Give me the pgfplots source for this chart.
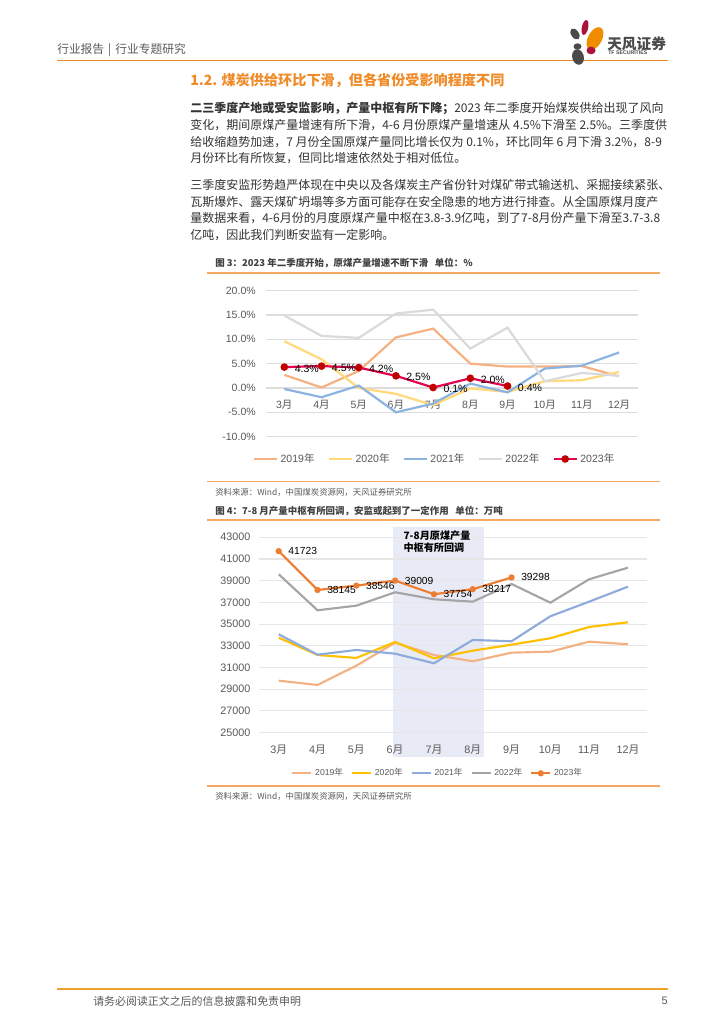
\documentclass[border=0pt]{standalone}
\usepackage{pgfplots}
\pgfplotsset{compat=1.18}
\usepackage{fontspec}
\setmainfont{Liberation Sans}
\newfontfamily\cjk{Noto Sans CJK SC}
\definecolor{hdr}{HTML}{EE8424}
\definecolor{ttl}{HTML}{F08B28}
\definecolor{rulec}{HTML}{F5A860}
\definecolor{foot}{HTML}{F0A02C}
\definecolor{bodyc}{HTML}{333333}
\definecolor{gr}{HTML}{595959}
\definecolor{ttlg}{HTML}{404040}
\definecolor{gridA}{HTML}{DDDDDD}
\definecolor{gridB}{HTML}{E6E6E6}
\definecolor{aA}{HTML}{F6B183}
\definecolor{aB}{HTML}{FFD97A}
\definecolor{aC}{HTML}{8DB4E0}
\definecolor{aD}{HTML}{DADADA}
\definecolor{aE}{HTML}{E3064E}
\definecolor{aEm}{HTML}{C00000}
\definecolor{bA}{HTML}{F4B183}
\definecolor{bB}{HTML}{FFC000}
\definecolor{bC}{HTML}{8FAADC}
\definecolor{bD}{HTML}{A5A5A5}
\definecolor{bE}{HTML}{ED7D31}
\definecolor{bandc}{HTML}{E8EBF6}
\definecolor{logog}{HTML}{4A4A4A}
\definecolor{logoo}{HTML}{F08C00}
\definecolor{logor}{HTML}{A8143C}
\newcommand{\nline}[2]{\node[anchor=west,inner sep=0pt,text=bodyc] at (190,#1) {\cjk\fontsize{9.0}{10}\selectfont #2};}
\begin{document}
\begin{tikzpicture}
\begin{scope}[x=0.75pt,y=-0.75pt]
\useasboundingbox (0,0) rectangle (724,1024);
\fill[white] (0,0) rectangle (724,1024);
% header
\node[anchor=west,inner sep=0pt,text=gr] at (57,50) {\cjk\fontsize{8.8}{10}\selectfont 行业报告\hspace{3pt}|\hspace{3pt}行业专题研究};
\draw[hdr,line width=1.2pt] (57,60.5) -- (668,60.5);
% logo
\fill[logor,rotate around={-12:(585,27.5)}] (585,27.5) ellipse (3.2 and 7.5);
\fill[logog,rotate around={35:(575,34)}] (575,34) ellipse (3.8 and 6.2);
\fill[logoo,rotate around={-28:(595,38.5)}] (595,38.5) ellipse (7 and 12.3);
\fill[logog] (577.5,46.5) ellipse (4 and 3.2);
\fill[logor] (591,50.5) ellipse (4.5 and 3.8);
\fill[logog,rotate around={15:(578,57)}] (578,57) ellipse (5.8 and 7.8);
\node[anchor=west,inner sep=0pt,text=logog] at (607,43.5) {\cjk\bfseries\fontsize{11}{12}\selectfont 天风证券};
\node[anchor=west,inner sep=0pt,text=logog] at (608,53) {\bfseries\fontsize{3.9}{4}\selectfont TF SECURITIES};
% section title
\node[anchor=west,inner sep=0pt,text=ttl] at (190,80) {\cjk\bfseries\fontsize{10.6}{12}\selectfont 1.2. 煤炭供给环比下滑，但各省份受影响程度不同};
% paragraph 1
\nline{108}{{\bfseries 二三季度产地或受安监影响，产量中枢有所下降；}2023 年二季度开始煤炭供给出现了风向}
\nline{125}{变化，期间原煤产量增速有所下滑，4-6 月份原煤产量增速从 4.5\%下滑至 2.5\%。三季度供}
\nline{142}{给收缩趋势加速，7 月份全国原煤产量同比增长仅为 0.1\%，环比同年 6 月下滑 3.2\%，8-9}
\nline{158}{月份环比有所恢复，但同比增速依然处于相对低位。}
% paragraph 2
\nline{185}{三季度安监形势趋严体现在中央以及各煤炭主产省份针对煤矿带式输送机、采掘接续紧张、}
\nline{202}{瓦斯爆炸、露天煤矿坍塌等多方面可能存在安全隐患的地方进行排查。从全国原煤月度产}
\nline{218}{量数据来看，4-6月份的月度原煤产量中枢在3.8-3.9亿吨，到了7-8月份产量下滑至3.7-3.8}
\nline{235}{亿吨，因此我们判断安监有一定影响。}
% chart 1 frame
\node[anchor=west,inner sep=0pt,text=ttlg] at (215,263) {\cjk\bfseries\fontsize{7.1}{8}\selectfont 图 3：2023 年二季度开始，原煤产量增速不断下滑\hspace{5pt}单位：\%};
\draw[rulec,line width=0.9pt] (207,273) -- (660,273);
\draw[rulec,line width=0.9pt] (207,481.5) -- (660,481.5);
\node[anchor=west,inner sep=0pt,text=gr] at (215,492) {\cjk\fontsize{6.3}{8}\selectfont 资料来源：Wind，中国煤炭资源网，天风证券研究所};
% chart 2 frame
\node[anchor=west,inner sep=0pt,text=ttlg] at (215,511.5) {\cjk\bfseries\fontsize{7.1}{8}\selectfont 图 4：7-8 月产量中枢有所回调，安监或起到了一定作用\hspace{5pt}单位：万吨};
\draw[rulec,line width=0.9pt] (207,520) -- (660,520);
\draw[rulec,line width=0.9pt] (207,786) -- (660,786);
\node[anchor=west,inner sep=0pt,text=gr] at (215,796) {\cjk\fontsize{6.3}{8}\selectfont 资料来源：Wind，中国煤炭资源网，天风证券研究所};
% shaded band behind chart 2
\fill[bandc] (393.3,526.7) rectangle (484.3,756.7);
% footer
\draw[foot,line width=1.5pt] (57,989) -- (668,989);
\node[anchor=west,inner sep=0pt,text=gr] at (93,1001) {\cjk\fontsize{8.2}{10}\selectfont 请务必阅读正文之后的信息披露和免责申明};
\node[anchor=east,inner sep=0pt,text=gr] at (668,1001) {\fontsize{8.2}{10}\selectfont 5};
\end{scope}

% ---------------- chart 1 ----------------
\begin{axis}[
  at={(199.3pt,-327.5pt)}, anchor=south west,
  scale only axis, width=279pt, height=109.5pt,
  xmin=-0.5, xmax=9.5, ymin=-10, ymax=20,
  xtick={0,...,9},
  xticklabels={3{\cjk 月},4{\cjk 月},5{\cjk 月},6{\cjk 月},7{\cjk 月},8{\cjk 月},9{\cjk 月},10{\cjk 月},11{\cjk 月},12{\cjk 月}},
  ytick={-10,-5,0,5,10,15,20},
  yticklabel={\pgfmathprintnumber[fixed,fixed zerofill,precision=1]{\tick}\%},
  /pgf/number format/assume math mode=true,
  axis line style={draw=none}, major tick length=0pt,
  ymajorgrids, grid style={gridA, line width=0.8pt},
  tick label style={font=\fontsize{7.9}{9}\selectfont, text=gr},
  yticklabel style={anchor=east, inner sep=0pt, xshift=-7.3pt},
  xticklabel style={anchor=center, inner sep=0pt, yshift=23.8pt},
  clip=false,
  legend columns=5,
  legend style={at={(0.455,-0.153)}, anchor=center, draw=none, fill=none, font=\fontsize{7.9}{9}\selectfont, text=gr, /tikz/every even column/.append style={column sep=8pt}},
  every axis plot/.append style={line width=1.65pt},
]
\addplot[aA, no marks] coordinates {(0,2.7)(1,0.1)(2,3.5)(3,10.4)(4,12.2)(5,5.0)(6,4.4)(7,4.4)(8,4.5)(9,2.4)};
\addplot[aB, no marks] coordinates {(0,9.6)(1,5.9)(2,0.0)(3,-1.2)(4,-3.5)(5,-0.1)(6,-0.8)(7,1.4)(8,1.6)(9,3.3)};
\addplot[aC, no marks] coordinates {(0,-0.2)(1,-1.9)(2,0.5)(3,-5.0)(4,-3.2)(5,0.9)(6,-0.9)(7,4.0)(8,4.6)(9,7.3)};
\addplot[aD, no marks] coordinates {(0,14.9)(1,10.7)(2,10.3)(3,15.3)(4,16.1)(5,8.1)(6,12.4)(7,1.4)(8,3.1)(9,2.5)};
\addplot[aE, mark=*, mark size=2pt, mark options={fill=aEm, draw=aEm},
  point meta=explicit symbolic, nodes near coords={\pgfplotspointmeta\%},
  every node near coord/.append style={anchor=west, inner sep=0pt, xshift=7pt, yshift=-1pt, text=black, font=\fontsize{7.9}{9}\selectfont}]
  coordinates {(0,4.3)[4.3] (1,4.5)[4.5] (2,4.2)[4.2] (3,2.5)[2.5] (4,0.1)[0.1] (5,2.0)[2.0] (6,0.4)[0.4]};
\legend{2019{\cjk 年},2020{\cjk 年},2021{\cjk 年},2022{\cjk 年},2023{\cjk 年}}
\end{axis}

% ---------------- chart 2 ----------------
\begin{axis}[
  at={(194.5pt,-549.5pt)}, anchor=south west,
  scale only axis, width=291pt, height=146.55pt,
  xmin=-0.5, xmax=9.5, ymin=25000, ymax=43000,
  xtick={0,...,9},
  xticklabels={3{\cjk 月},4{\cjk 月},5{\cjk 月},6{\cjk 月},7{\cjk 月},8{\cjk 月},9{\cjk 月},10{\cjk 月},11{\cjk 月},12{\cjk 月}},
  ytick={25000,27000,...,43000},
  scaled y ticks=false,
  /pgf/number format/assume math mode=true,
  /pgf/number format/1000 sep={},
  axis line style={draw=none}, major tick length=0pt,
  ymajorgrids, grid style={gridB, line width=0.8pt},
  tick label style={font=\fontsize{8.1}{9}\selectfont, text=gr},
  yticklabel style={anchor=east, inner sep=0pt, xshift=-6.45pt},
  xticklabel style={anchor=center, inner sep=0pt, yshift=-13pt},
  clip=false,
  legend columns=5,
  legend image code/.code={\draw[mark repeat=2,mark phase=2,#1] plot coordinates {(0cm,0cm) (0.25cm,0cm) (0.5cm,0cm)};},
  legend style={at={(0.4606,-0.2078)}, anchor=center, draw=none, fill=none, font=\fontsize{6.5}{8}\selectfont, text=gr, /tikz/every even column/.append style={column sep=4pt}},
  every axis plot/.append style={line width=1.6pt},
]
\node[anchor=west, inner sep=0pt, align=left, text=black, font=\cjk\bfseries\fontsize{7.6}{9.2}\selectfont] at (axis cs:3.21,42567) {7-8月原煤产量\\中枢有所回调};
\addplot[bA, no marks] coordinates {(0,29790)(1,29395)(2,31173)(3,33292)(4,32158)(5,31578)(6,32370)(7,32462)(8,33383)(9,33144)};
\addplot[bB, no marks] coordinates {(0,33752)(1,32158)(2,31882)(3,33355)(4,31853)(5,32554)(6,33107)(7,33696)(8,34737)(9,35170)};
\addplot[bC, no marks] coordinates {(0,34065)(1,32186)(2,32619)(3,32278)(4,31393)(5,33540)(6,33420)(7,35723)(8,37068)(9,38450)};
\addplot[bD, no marks] coordinates {(0,39592)(1,36276)(2,36700)(3,37934)(4,37289)(5,37068)(6,38698)(7,36976)(8,39131)(9,40200)};
\addplot[bE, mark=*, mark size=1.5pt, mark options={fill=bE, draw=bE},
  point meta=explicit symbolic, nodes near coords={\pgfplotspointmeta},
  every node near coord/.append style={anchor=west, inner sep=0pt, xshift=6.5pt, text=black, font=\fontsize{7.7}{9}\selectfont}]
  coordinates {(0,41723)[41723] (1,38145)[38145] (2,38546)[38546] (3,39009)[39009] (4,37754)[37754] (5,38217)[38217] (6,39298)[39298]};
\legend{2019{\cjk 年},2020{\cjk 年},2021{\cjk 年},2022{\cjk 年},2023{\cjk 年}}
\end{axis}
\end{tikzpicture}
\end{document}
